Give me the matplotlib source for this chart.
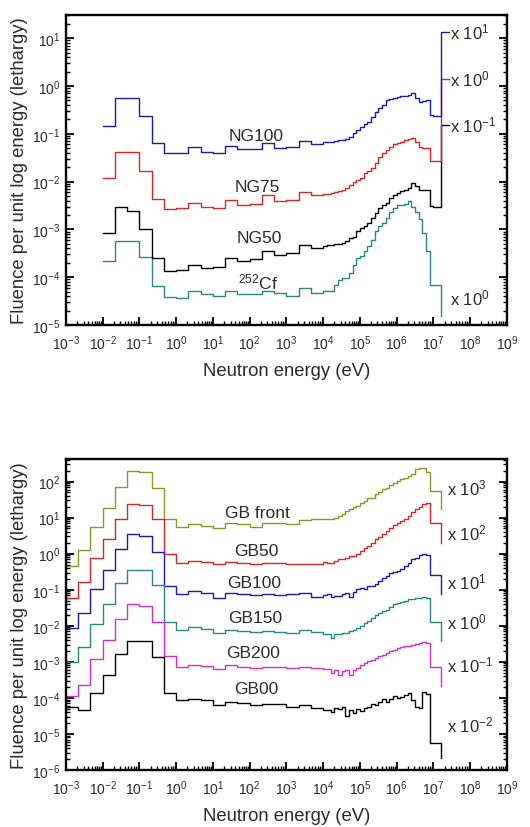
import numpy as np
import matplotlib
matplotlib.use('Agg')
import matplotlib.pyplot as plt
from matplotlib.ticker import LogLocator, NullFormatter

plt.rcParams['font.family'] = ['Liberation Sans', 'DejaVu Sans']
plt.rcParams['mathtext.fontset'] = 'custom'
plt.rcParams['mathtext.rm'] = 'Liberation Sans'
plt.rcParams['mathtext.it'] = 'Liberation Sans:italic'

# ---------------------------------------------------------------------------
# Energy group boundaries, log10(E / eV): 3 groups per decade up to 10 keV,
# then 10 groups per decade up to ~16 MeV
# ---------------------------------------------------------------------------
low_edges = [-3.0, -2.667, -2.333, -2.0, -1.667, -1.333, -1.0, -0.667, -0.333,
             0.0, 0.333, 0.667, 1.0, 1.333, 1.667, 2.0, 2.333, 2.667, 3.0,
             3.333, 3.667, 4.0]
fine_edges = [4.1, 4.2, 4.3, 4.4, 4.5, 4.6, 4.7, 4.8, 4.9, 5.0,
              5.1, 5.2, 5.3, 5.4, 5.5, 5.6, 5.7, 5.8, 5.9, 6.0,
              6.1, 6.2, 6.3, 6.4, 6.5, 6.6, 6.7, 6.8, 6.9, 7.0,
              7.1, 7.2]

# ---------------------------------------------------------------------------
# Top panel (spectra start at 10 meV), log10 of fluence per lethargy (scaled)
# ---------------------------------------------------------------------------
ng100_low = [-0.83, -0.26, -0.26, -0.625, -1.19, -1.40, -1.40, -1.27, -1.375,
             -1.40, -1.25, -1.32, -1.31, -1.19, -1.29, -1.28, -1.15, -1.22]
ng100_high = [-1.17, -1.17, -1.17, -1.15, -1.14, -1.13, -1.10, -1.06, -0.99, -0.92,
              -0.85, -0.80, -0.75, -0.65, -0.54, -0.47, -0.40, -0.30, -0.27, -0.25,
              -0.23, -0.22, -0.21, -0.18, -0.15, -0.26, -0.33, -0.31, -0.30, -0.61,
              -0.62, -0.62]
ng75_low = [-1.917, -1.375, -1.39, -1.77, -2.36, -2.58, -2.56, -2.45, -2.53,
            -2.56, -2.39, -2.49, -2.46, -2.29, -2.40, -2.38, -2.21, -2.29]
ng75_high = [-2.26, -2.26, -2.24, -2.21, -2.19, -2.17, -2.14, -2.07, -2.00, -1.97,
             -1.93, -1.83, -1.78, -1.72, -1.62, -1.48, -1.40, -1.34, -1.27, -1.22,
             -1.20, -1.17, -1.13, -1.10, -1.08, -1.18, -1.27, -1.29, -1.29, -1.58,
             -1.58, -1.58]
ng50_low = [-3.08, -2.54, -2.625, -2.99, -3.60, -3.875, -3.84, -3.74, -3.81,
            -3.79, -3.60, -3.67, -3.61, -3.46, -3.53, -3.49, -3.33, -3.39]
ng50_high = [-3.34, -3.33, -3.33, -3.31, -3.30, -3.29, -3.24, -3.19, -3.15, -3.04,
             -2.97, -2.92, -2.87, -2.76, -2.66, -2.56, -2.50, -2.44, -2.35, -2.28,
             -2.24, -2.20, -2.17, -2.13, -2.02, -2.10, -2.17, -2.17, -2.17, -2.52,
             -2.53, -2.53]
cf_low = [-3.67, -3.25, -3.25, -3.58, -4.19, -4.42, -4.44, -4.29, -4.36,
          -4.40, -4.29, -4.36, -4.36, -4.29, -4.34, -4.40, -4.22, -4.33]
cf_high = [-4.29, -4.29, -4.29, -4.17, -4.05, -4.01, -4.01, -3.91, -3.75, -3.60,
           -3.56, -3.46, -3.35, -3.22, -3.04, -2.94, -2.87, -2.76, -2.63, -2.56,
           -2.49, -2.49, -2.47, -2.40, -2.53, -2.63, -2.78, -3.08, -3.45, -4.17,
           -4.17, -4.17]

top_names = ['NG100', 'NG75', 'NG50', '$^{252}$Cf']
top_scales = ['x 10$^{1}$', 'x 10$^{0}$', 'x 10$^{-1}$', 'x 10$^{0}$']
top_tails = [1.13, 0.15, -0.81, -4.81]          # end of the last vertical segment
top_label_pos = [(2.17, -1.04), (2.20, -2.10), (2.25, -3.16), (2.22, -4.08)]
top_scale_y = [1.13, 0.15, -0.81, -4.43]

# ---------------------------------------------------------------------------
# Bottom panel (spectra start at 1 meV)
# ---------------------------------------------------------------------------
gbf_low = [-0.345, 0.10, 0.749, 1.277, 1.85, 2.28, 2.26, 1.83, 0.95, 0.74, 0.83,
           0.77, 0.72, 0.84, 0.81, 0.75, 0.84, 0.86, 0.81, 0.93, 0.95]
gbf_high = [0.95, 0.96, 0.97, 1.00, 1.03, 1.11, 1.18, 1.23, 1.28, 1.32,
            1.40, 1.46, 1.53, 1.53, 1.65, 1.71, 1.79, 1.83, 1.90, 1.95,
            2.02, 2.06, 2.11, 2.15, 2.22, 2.36, 2.37, 2.37, 2.27, 1.74,
            1.74, 1.74]
gb50_low = [-1.24, -0.79, -0.11, 0.40, 0.95, 1.37, 1.35, 0.95, -0.02, -0.25, -0.20,
            -0.22, -0.30, -0.22, -0.26, -0.30, -0.25, -0.27, -0.30, -0.28, -0.28]
gb50_high = [-0.23, -0.25, -0.25, -0.21, -0.16, -0.16, -0.13, -0.07, -0.07, 0.00,
             0.07, 0.17, 0.21, 0.30, 0.40, 0.47, 0.54, 0.63, 0.72, 0.79,
             0.84, 0.91, 0.97, 1.05, 1.15, 1.23, 1.30, 1.37, 1.40, 0.85,
             0.85, 0.85]
gb100_low = [-2.06, -1.64, -0.99, -0.44, 0.12, 0.54, 0.49, 0.05, -0.90, -1.13, -1.04,
             -1.10, -1.23, -1.08, -1.12, -1.15, -1.13, -1.15, -1.12, -1.10, -1.20]
gb100_high = [-1.14, -1.12, -1.21, -1.17, -1.17, -1.13, -1.09, -1.20, -1.07, -0.99,
              -0.95, -0.97, -0.90, -0.90, -0.85, -0.76, -0.68, -0.62, -0.55, -0.52,
              -0.48, -0.42, -0.34, -0.25, -0.15, -0.11, -0.05, 0.00, -0.05, -0.60,
              -0.60, -0.60]
gb150_low = [-3.01, -2.60, -1.94, -1.39, -0.81, -0.44, -0.46, -0.88, -1.89, -2.11, -2.03,
             -2.09, -2.20, -2.11, -2.15, -2.18, -2.15, -2.18, -2.20, -2.12, -2.18]
gb150_high = [-2.22, -2.22, -2.34, -2.22, -2.22, -2.20, -2.20, -2.15, -2.11, -2.06,
              -2.01, -1.92, -1.87, -1.78, -1.69, -1.64, -1.60, -1.55, -1.48, -1.41,
              -1.36, -1.34, -1.32, -1.27, -1.26, -1.24, -1.22, -1.20, -1.22, -1.89,
              -1.89, -1.89]
gb200_low = [-3.96, -3.63, -2.92, -2.40, -1.81, -1.41, -1.44, -1.90, -2.85, -3.13, -3.08,
             -3.11, -3.20, -3.08, -3.13, -3.17, -3.13, -3.14, -3.17, -3.13, -3.17]
gb200_high = [-3.20, -3.20, -3.31, -3.24, -3.36, -3.26, -3.22, -3.36, -3.22, -3.17,
              -3.08, -3.03, -2.99, -2.94, -2.89, -2.85, -2.80, -2.75, -2.71, -2.66,
              -2.62, -2.59, -2.57, -2.55, -2.52, -2.50, -2.47, -2.45, -2.48, -3.13,
              -3.13, -3.13]
gb00_low = [-4.24, -4.33, -3.87, -3.36, -2.77, -2.41, -2.43, -2.87, -3.87, -4.07, -4.03,
            -4.07, -4.19, -4.12, -4.14, -4.19, -4.16, -4.16, -4.24, -4.19, -4.28]
gb00_high = [-4.33, -4.33, -4.38, -4.28, -4.30, -4.25, -4.50, -4.33, -4.42, -4.30,
             -4.35, -4.28, -4.24, -4.17, -4.19, -4.10, -4.04, -4.12, -4.02, -3.96,
             -4.00, -3.98, -3.93, -3.87, -4.05, -4.25, -4.28, -3.85, -3.88, -5.26,
             -5.26, -5.26]

bot_names = ['GB front', 'GB50', 'GB100', 'GB150', 'GB200', 'GB00']
bot_scales = ['x 10$^{3}$', 'x 10$^{2}$', 'x 10$^{1}$', 'x 10$^{0}$',
              'x 10$^{-1}$', 'x 10$^{-2}$']
bot_tails = [1.23, 0.30, -1.13, -2.43, -3.68, -5.67]
bot_label_pos = [(2.20, 1.15), (2.17, 0.09), (2.12, -0.80), (2.15, -1.77),
                 (2.10, -2.73), (2.17, -3.74)]
bot_scale_y = [1.84, 0.59, -0.77, -1.88, -3.07, -4.74]

BLUE, RED, BLACK, TEAL = '#1c1ca8', '#d62828', '#000000', '#2a8585'
OLIVE, MAGENTA = '#93932a', '#d030d0'
TXT = '#2a2a2a'


def outline(edges, vals, tail, tick):
    """Histogram outline in log units -> linear x, y arrays."""
    xs, ys = [], []
    for lo, hi, v in zip(edges[:-1], edges[1:], vals):
        xs += [lo, hi]
        ys += [v, v]
    xs.append(edges[-1]); ys.append(tail)
    if tick:
        xs.append(edges[-1] + tick); ys.append(tail)
    return 10.0 ** np.array(xs), 10.0 ** np.array(ys)


def style(ax, ylim):
    ax.set_xscale('log'); ax.set_yscale('log')
    ax.set_xlim(1e-3, 1e9)
    ax.set_ylim(*ylim)
    for axis in (ax.xaxis, ax.yaxis):
        axis.set_major_locator(LogLocator(base=10, numticks=30))
        axis.set_minor_locator(LogLocator(base=10, subs=np.arange(2, 10), numticks=300))
        axis.set_minor_formatter(NullFormatter())
    ax.tick_params(which='both', direction='in', top=False, right=True,
                   width=1.3, labelsize=10, labelcolor=TXT)
    ax.tick_params(axis='x', pad=6)
    ax.tick_params(axis='y', pad=4)
    ax.tick_params(which='major', length=5.5)
    ax.tick_params(which='minor', length=2.8, width=1.0)
    for s in ax.spines.values():
        s.set_linewidth(1.7)
    ax.set_xlabel('Neutron energy (eV)', fontsize=13.3, labelpad=7, color=TXT)
    ax.set_ylabel('Fluence per unit log energy (lethargy)', fontsize=13.3,
                  labelpad=3, color=TXT)


fig = plt.figure(figsize=(5.30, 8.28), dpi=100)
ax1 = fig.add_axes([0.1245, 0.6063, 0.832, 0.3744])
ax2 = fig.add_axes([0.1245, 0.0688, 0.832, 0.3756])

# --- top panel -------------------------------------------------------------
top_edges = low_edges[3:] + fine_edges
top_vals = [ng100_low + ng100_high, ng75_low + ng75_high,
            ng50_low + ng50_high, cf_low + cf_high]
top_colors = [BLUE, RED, BLACK, TEAL]
top_ticks = [0.22, 0.22, 0.22, 0.0]
for i in [3, 2, 1, 0]:
    x, y = outline(top_edges, top_vals[i], top_tails[i], top_ticks[i])
    ax1.plot(x, y, color=top_colors[i], lw=1.0)
for name, (lx, ly) in zip(top_names, top_label_pos):
    ax1.text(10 ** lx, 10 ** ly, name, fontsize=12.5, ha='center', va='center',
             color=TXT)
for lab, ly in zip(top_scales, top_scale_y):
    ax1.text(10 ** 7.44, 10 ** ly, lab, fontsize=12, ha='left', va='center',
             color=TXT)
style(ax1, (1e-5, 30.5))

# --- bottom panel ----------------------------------------------------------
bot_edges = low_edges + fine_edges
bot_vals = [gbf_low + gbf_high, gb50_low + gb50_high, gb100_low + gb100_high,
            gb150_low + gb150_high, gb200_low + gb200_high, gb00_low + gb00_high]
bot_colors = [OLIVE, RED, BLUE, TEAL, MAGENTA, BLACK]
for i in range(len(bot_vals)):
    x, y = outline(bot_edges, bot_vals[i], bot_tails[i], 0.0)
    ax2.plot(x, y, color=bot_colors[i], lw=1.0)
for name, (lx, ly) in zip(bot_names, bot_label_pos):
    ax2.text(10 ** lx, 10 ** ly, name, fontsize=12.5, ha='center', va='center',
             color=TXT)
for lab, ly in zip(bot_scales, bot_scale_y):
    ax2.text(10 ** 7.36, 10 ** ly, lab, fontsize=12, ha='left', va='center',
             color=TXT)
style(ax2, (1e-6, 420))

fig.savefig('out.png', dpi=100)
